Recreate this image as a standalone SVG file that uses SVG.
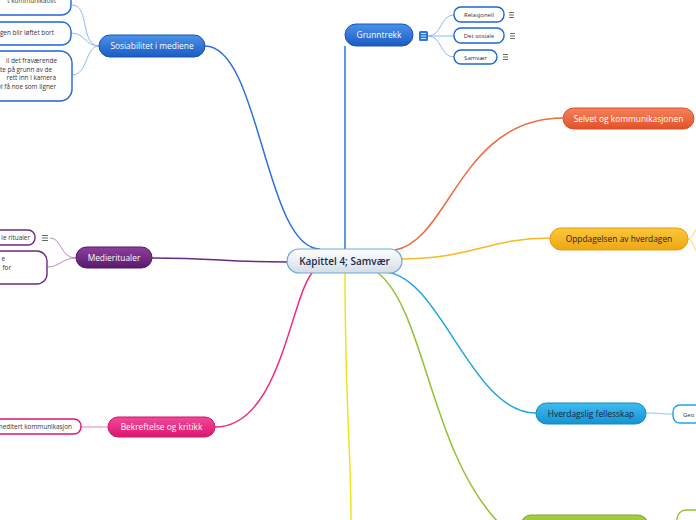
<svg xmlns="http://www.w3.org/2000/svg" width="696" height="520" viewBox="0 0 696 520">
<defs>
<linearGradient id="gBlue" x1="0" y1="0" x2="0" y2="1"><stop offset="0" stop-color="#4b93ea"/><stop offset="1" stop-color="#1a5bc2"/></linearGradient>
<linearGradient id="gPurple" x1="0" y1="0" x2="0" y2="1"><stop offset="0" stop-color="#8d3f9e"/><stop offset="1" stop-color="#5a1a6c"/></linearGradient>
<linearGradient id="gPink" x1="0" y1="0" x2="0" y2="1"><stop offset="0" stop-color="#f2489a"/><stop offset="1" stop-color="#d9196e"/></linearGradient>
<linearGradient id="gOrange" x1="0" y1="0" x2="0" y2="1"><stop offset="0" stop-color="#f5825a"/><stop offset="1" stop-color="#e0522a"/></linearGradient>
<linearGradient id="gYellow" x1="0" y1="0" x2="0" y2="1"><stop offset="0" stop-color="#fcc73a"/><stop offset="1" stop-color="#eda613"/></linearGradient>
<linearGradient id="gCyan" x1="0" y1="0" x2="0" y2="1"><stop offset="0" stop-color="#40bcef"/><stop offset="1" stop-color="#1592d3"/></linearGradient>
<linearGradient id="gGreen" x1="0" y1="0" x2="0" y2="1"><stop offset="0" stop-color="#a2d040"/><stop offset="1" stop-color="#86b82a"/></linearGradient>
<linearGradient id="gCenter" x1="0" y1="0" x2="0" y2="1"><stop offset="0" stop-color="#ffffff"/><stop offset="1" stop-color="#d3dde6"/></linearGradient>
</defs>
<style>
text{font-family:"Open Sans","Noto Sans","Liberation Sans",sans-serif}
.main{font-size:8.4px;fill:#fff;text-anchor:middle}
.dark{fill:#1b1f3a}
.sub{font-size:6px;fill:#333;text-anchor:middle}
.subl{font-size:6.4px;fill:#333;text-anchor:end}
.conn path{fill:none;stroke-width:1.5}
.subc path{fill:none;stroke-width:1}
.box{fill:#fff;stroke-width:1.4}
.ico{fill:none;stroke:#444;stroke-width:0.8}
</style>
<g id="connectors">
<g class="conn">
<path d="M205,46 C260,46 265,249 320,249" stroke="#2a72dc"/>
<path d="M345,46 C345,150 345,200 345,249" stroke="#2a72dc"/>
<path d="M395,250 C450,240 460,118 563,118" stroke="#ec6a3e"/>
<path d="M402,259 C470,259 490,238 550,238" stroke="#f8b820"/>
<path d="M383,272 C440,272 470,413 536,413" stroke="#1ea5e4"/>
<path d="M378,273 C425,310 430,450 498,522" stroke="#92c132"/>
<path d="M345,273 C345,400 351,450 351,520" stroke="#ece51e"/>
<path d="M152,258 C220,258 220,262 287,262" stroke="#6a2a7e"/>
<path d="M215,427 C280,427 290,300 312,273" stroke="#ec2a80"/>
</g>
<g class="subc">
<path d="M99,46 C80,46 90,5 72,5" stroke="#8cb9ee"/>
<path d="M99,46 C85,46 85,33 71,33" stroke="#8cb9ee"/>
<path d="M99,46 C85,46 88,75 72,75" stroke="#8cb9ee"/>
<path d="M428,36 C442,36 440,15 454,15" stroke="#8cb9ee"/>
<path d="M428,36 L454,36" stroke="#8cb9ee"/>
<path d="M428,36 C442,36 440,57 454,57" stroke="#8cb9ee"/>
<path d="M76,258 C60,258 62,238 50,238" stroke="#b98ac4"/>
<path d="M76,258 C62,258 60,267 47,267" stroke="#b98ac4"/>
<path d="M108,427 L81,427" stroke="#f27eb0"/>
<path d="M646,413 C660,413 660,414 673,414" stroke="#80cdf0"/>
<path d="M688,239 C693,239 694,229 700,226" stroke="#fbd36e"/>
<path d="M688,239 C693,239 694,251 700,255" stroke="#fbd36e"/>
</g>
</g>
<g id="center">
<rect x="287" y="249" width="115" height="24" rx="12" fill="url(#gCenter)" stroke="#6aa8da" stroke-width="1.2"/>
<text x="344.5" y="265" font-size="10" font-weight="600" fill="#1b2a4c" text-anchor="middle">Kapittel 4; Samvær</text>
</g>
<g id="grunntrekk">
<rect x="345" y="24" width="68" height="22" rx="11" fill="url(#gBlue)" stroke="#1756b5"/>
<text class="main" x="379" y="38">Grunntrekk</text>
<rect x="419" y="31" width="9" height="10" rx="1.5" fill="#2d74d8"/>
<path d="M421,33.5 H426 M421,36 H426 M421,38.5 H426" stroke="#fff" stroke-width="0.8"/>
</g>
<g id="relasjonell">
<rect class="box" x="454" y="7" width="50" height="15" rx="7" stroke="#1f66d0"/>
<text class="sub" x="479" y="17">Relasjonell</text>
<path class="ico" d="M509,12.5 H514 M509,15 H514 M509,17.5 H514"/>
</g>
<g id="detsosiale">
<rect class="box" x="454" y="28" width="50" height="15" rx="7" stroke="#1f66d0"/>
<text class="sub" x="479" y="38">Det sosiale</text>
<path class="ico" d="M510,33.5 H515 M510,36 H515 M510,38.5 H515"/>
</g>
<g id="samvaer">
<rect class="box" x="454" y="50" width="43" height="14" rx="7" stroke="#1f66d0"/>
<text class="sub" x="475.5" y="59.5">Samvær</text>
<path class="ico" d="M503,54.5 H508 M503,57 H508 M503,59.5 H508"/>
</g>
<g id="sosiabilitet">
<rect x="99" y="35" width="106" height="22" rx="11" fill="url(#gBlue)" stroke="#1756b5"/>
<text class="main" x="152" y="49">Sosiabilitet i mediene</text>
</g>
<g id="sos1">
<rect class="box" x="-12" y="-10" width="83" height="25" rx="9" stroke="#1f66d0"/>
<text class="subl" x="56" y="3">t kommunikativt</text>
</g>
<g id="sos2">
<rect class="box" x="-12" y="22" width="83" height="23" rx="9" stroke="#1f66d0"/>
<text class="subl" x="54" y="35">ngen blir løftet bort</text>
</g>
<g id="sos3">
<rect class="box" x="-14" y="51" width="86" height="50" rx="12" stroke="#1f66d0"/>
<text class="subl" x="57" y="63">il det fraværende</text>
<text class="subl" x="52" y="71.5">ette på grunn av de</text>
<text class="subl" x="56" y="80">rett inn i kamera</text>
<text class="subl" x="56" y="88.5">vi få noe som ligner</text>
</g>
<g id="selvet">
<rect x="563" y="108" width="131" height="21" rx="10.5" fill="url(#gOrange)" stroke="#d9512b"/>
<text class="main" x="628.5" y="121.5">Selvet og kommunikasjonen</text>
</g>
<g id="oppdagelsen">
<rect x="550" y="228" width="138" height="22" rx="11" fill="url(#gYellow)" stroke="#e0a010"/>
<text class="main dark" x="619" y="242">Oppdagelsen av hverdagen</text>
</g>
<g id="medieritualer">
<rect x="76" y="247" width="76" height="21" rx="10.5" fill="url(#gPurple)" stroke="#561868"/>
<text class="main" x="114" y="260.5">Medieritualer</text>
</g>
<g id="med1">
<rect class="box" x="-12" y="230" width="47" height="15" rx="7" stroke="#6a2a7e"/>
<text class="subl" x="30" y="240">le ritualer</text>
<path class="ico" d="M42,235.5 H48 M42,238 H48 M42,240.5 H48"/>
</g>
<g id="med2">
<rect class="box" x="-14" y="251" width="61" height="33" rx="10" stroke="#6a2a7e"/>
<text class="subl" x="5" y="261">e</text>
<text class="subl" x="11" y="270">for</text>
</g>
<g id="bekreftelse">
<rect x="108" y="417" width="107" height="20" rx="10" fill="url(#gPink)" stroke="#cf1466"/>
<text class="main" x="161.5" y="430">Bekreftelse og kritikk</text>
</g>
<g id="bek1">
<rect class="box" x="-12" y="419" width="93" height="15" rx="7" stroke="#d9196e"/>
<text class="subl" x="72" y="429">meditert kommunikasjon</text>
</g>
<g id="hverdagslig">
<rect x="536" y="403" width="110" height="21" rx="10.5" fill="url(#gCyan)" stroke="#1288c8"/>
<text class="main dark" x="591" y="416.5">Hverdagslig fellesskap</text>
</g>
<g id="hver1">
<rect class="box" x="673" y="405" width="40" height="18" rx="7" stroke="#1ea5e4"/>
<text class="sub" x="683" y="416.5" style="text-anchor:start">Geo</text>
</g>
<g id="greennode">
<rect x="521" y="515" width="127" height="22" rx="10" fill="url(#gGreen)" stroke="#7aa824"/>
</g>
<g id="green1">
<rect class="box" x="677" y="510" width="40" height="22" rx="9" stroke="#92c132"/>
</g>
</svg>
